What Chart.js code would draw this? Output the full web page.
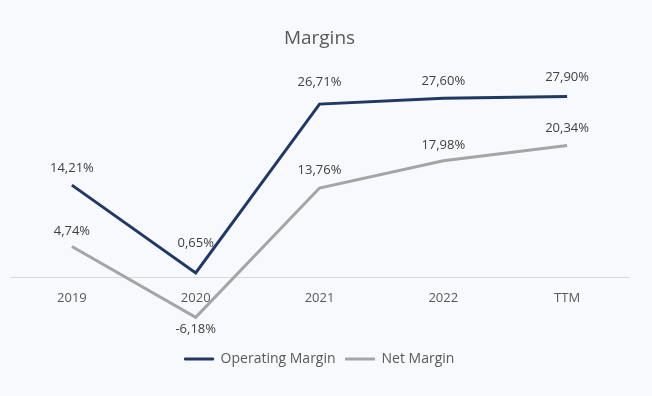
<!DOCTYPE html>
<html>
<head>
<meta charset="utf-8">
<script src="https://cdn.jsdelivr.net/npm/chart.js@4/dist/chart.umd.min.js"></script>
<style>
  html, body { margin: 0; padding: 0; background: #F7F9FC; }
  #wrap { width: 652px; height: 396px; }
</style>
</head>
<body>
<div id="wrap"><canvas id="c" width="652" height="396"></canvas></div>
<script>
const categories = ['2019', '2020', '2021', '2022', 'TTM'];
const operatingMargin = [14.21, 0.65, 26.71, 27.60, 27.90];
const netMargin = [4.74, -6.18, 13.76, 17.98, 20.34];

const fmt = v => v.toFixed(2).replace('.', ',') + '%';

const bgPlugin = {
  id: 'bg',
  beforeDraw(chart) {
    const ctx = chart.ctx;
    ctx.save();
    ctx.fillStyle = '#F7F9FC';
    ctx.fillRect(0, 0, chart.width, chart.height);
    ctx.restore();
  }
};

const labelPlugin = {
  id: 'valueLabels',
  afterDatasetsDraw(chart) {
    const ctx = chart.ctx;
    ctx.save();
    ctx.font = '13px "Open Sans"';
    ctx.fillStyle = '#404040';
    ctx.textAlign = 'center';
    ctx.textBaseline = 'middle';
    chart.data.datasets.forEach((ds, i) => {
      const meta = chart.getDatasetMeta(i);
      meta.data.forEach((pt, j) => {
        const v = ds.data[j];
        let dy = v < 0 ? 12 : -17;
        if (ds.labelDy && ds.labelDy[j] != null) dy = ds.labelDy[j];
        ctx.fillText(fmt(v), pt.x, pt.y + dy);
      });
    });
    ctx.restore();
  }
};

new Chart(document.getElementById('c'), {
  type: 'line',
  data: {
    labels: categories,
    datasets: [
      {
        label: 'Operating Margin',
        data: operatingMargin,
        borderColor: '#203864',
        backgroundColor: '#203864',
        borderWidth: 3,
        pointRadius: 0,
        tension: 0,
        borderCapStyle: 'butt',
        borderJoinStyle: 'miter',
        labelDy: [null, -30, -22, null, -19]
      },
      {
        label: 'Net Margin',
        data: netMargin,
        borderColor: '#A5A5A5',
        backgroundColor: '#A5A5A5',
        borderWidth: 3,
        pointRadius: 0,
        tension: 0,
        borderCapStyle: 'butt',
        borderJoinStyle: 'miter',
        labelDy: [-15, 12, -18, -15, -17]
      }
    ]
  },
  options: {
    responsive: false,
    animation: false,
    clip: false,
    layout: { padding: { left: 10, right: 23, top: 0, bottom: 20 } },
    plugins: {
      title: {
        display: true,
        text: 'Margins',
        color: '#595959',
        font: { family: '"Open Sans"', size: 19, weight: 'normal' },
        padding: { top: 27, bottom: 33 }
      },
      legend: {
        display: true,
        position: 'bottom',
        labels: {
          color: '#595959',
          font: { family: '"Open Sans"', size: 14 },
          boxWidth: 29,
          boxHeight: 2,
          padding: 10,
          generateLabels(chart) {
            const items = Chart.defaults.plugins.legend.labels.generateLabels(chart);
            items.forEach(it => { it.lineWidth = 1; });
            return items;
          }
        }
      },
      tooltip: { enabled: false }
    },
    scales: {
      x: {
        position: { y: 0 },
        offset: true,
        grid: { display: false, drawTicks: false },
        border: { display: true, color: '#D9D9D9', width: 1 },
        ticks: {
          color: '#595959',
          font: { family: '"Open Sans"', size: 13 },
          padding: 13,
          maxRotation: 0
        }
      },
      y: {
        display: false,
        min: -10,
        max: 30
      }
    }
  },
  plugins: [bgPlugin, labelPlugin]
});
</script>
</body>
</html>
